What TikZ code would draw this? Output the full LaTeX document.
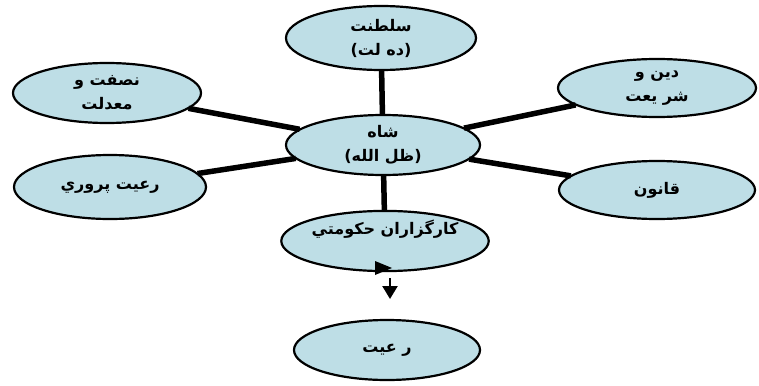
\documentclass[tikz,border=0pt]{standalone}
\usepackage{fontspec}
\TeXXeTstate=1
\newfontfamily\arabicfont[Script=Arabic]{DejaVu Sans}
\usetikzlibrary{arrows.meta,shapes.geometric}
\definecolor{ellfill}{RGB}{190,222,230}
\tikzset{
  bub/.style={ellipse, draw=black, line width=2.2pt, fill=ellfill, inner sep=0pt,
    font=\arabicfont\bfseries\fontsize{16}{24}\selectfont, align=center},
  spoke/.style={line width=5.5pt, draw=black, shorten <=-1pt, shorten >=-1pt},
  tipmark/.style={fill=black},
  downarrow/.style={line width=2.4pt, -{Triangle[length=13pt,width=15pt]}}
}
\begin{document}
\begin{tikzpicture}[x=1pt,y=-1pt]
\fill[white] (0,0) rectangle (759,385);
\useasboundingbox (0,0) rectangle (759,385);
\node[bub, minimum width=190pt, minimum height=64pt] (top) at (381,38)
  {\beginR سلطنت\endR\\\beginR (ده لت)\endR};
\node[bub, minimum width=188pt, minimum height=60pt] (lt) at (107,93)
  {\beginR نصفت و\endR\\\beginR معدلت\endR};
\node[bub, minimum width=198pt, minimum height=58pt] (rt) at (657,88)
  {\beginR دين و\endR\\\beginR شر يعت\endR};
\node[bub, minimum width=194pt, minimum height=60pt] (c) at (383,145)
  {\beginR شاه\endR\\\beginR (ظل الله)\endR};
\node[bub, minimum width=192pt, minimum height=64pt] (lb) at (110,187)
  {\beginR رعيت پروري\endR};
\node[bub, minimum width=196pt, minimum height=58pt] (rb) at (657,190)
  {\beginR قانون\endR};
\node[bub, minimum width=205pt, minimum height=58pt] (g) at (385,241)
  {\beginR كارگزاران حكومتي\endR\\[4pt]};
\node[bub, minimum width=186pt, minimum height=60pt] (r) at (387,350)
  {\beginR ر عيت\endR};
\draw[spoke] (c) -- (top);
\draw[spoke] (c) -- (lt);
\draw[spoke] (c) -- (rt);
\draw[spoke] (c) -- (lb);
\draw[spoke] (c) -- (rb);
\draw[spoke] (c) -- (g);
\fill[tipmark] (375,261) -- (392,268) -- (375,275) -- cycle;
\coordinate (d1) at (390,278);
\coordinate (d2) at (390,299);
\draw[downarrow] (d1) -- (d2);
\end{tikzpicture}
\end{document}
